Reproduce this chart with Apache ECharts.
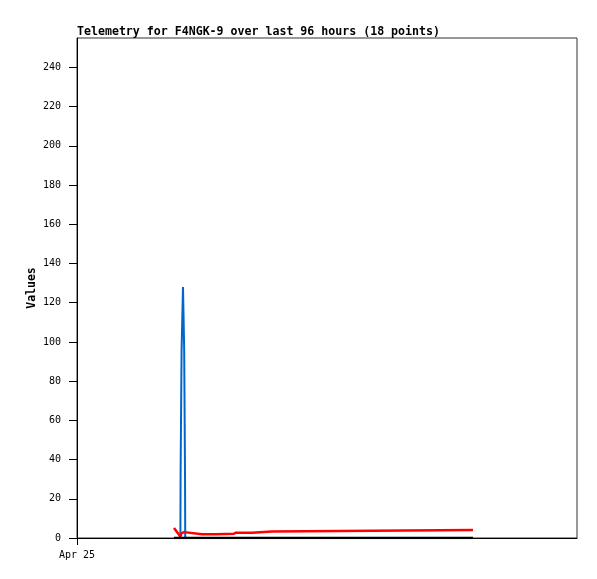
<!DOCTYPE html>
<html>
<head>
<meta charset="utf-8">
<script src="https://cdn.jsdelivr.net/npm/echarts@6/dist/echarts.min.js"></script>
<style>html,body{margin:0;padding:0;background:#fff;}#c{width:597px;height:579px;}</style>
</head>
<body>
<div id="c"></div>
<script>
// hours since Apr 25 00:00
var hours = [18.62, 19.85, 19.89, 20.08, 20.35, 20.58, 20.74, 20.78, 24.00, 26.69, 27.07, 30.14, 30.53, 33.60, 33.98, 37.44, 37.82, 76.03];
var blueValues = [0, 0, 32, 96, 128, 96, 32, 0, 0, 0, 0, 0, 0, 0, 0, 0, 0, 0];
var redValues = [5.1, 0.8, 1.5, 2.5, 3.1, 3, 2.8, 2.55, 1.9, 1.9, 2.2, 2.2, 2.7, 2.7, 3.3, 3.3, 4.1, 4.1];
var blackValues = [0, 0, 0, 0, 0, 0, 0, 0, 0, 0, 0, 0, 0, 0, 0, 0, 0, 0];
var yTicks = [0, 20, 40, 60, 80, 100, 120, 140, 160, 180, 200, 220, 240];
var xTicks = [0];
var xTickLabels = ['Apr 25'];
var titleText = 'Telemetry for F4NGK-9 over last 96 hours (18 points)';
var yName = 'Values';

function pairs(vals) { return hours.map(function (h, i) { return [h, vals[i]]; }); }

var chart = echarts.init(document.getElementById('c'), null, { renderer: 'canvas' });
var mono = '"DejaVu Sans Mono", "Liberation Mono", monospace';
chart.setOption({
  animation: false,
  backgroundColor: '#ffffff',
  title: {
    text: titleText, left: 72, top: 21,
    textStyle: { fontFamily: mono, fontSize: 11.6, fontWeight: 'bold', color: '#000' }
  },
  grid: { left: 77, top: 38, right: 20, bottom: 41, show: true, borderColor: '#333', borderWidth: 1, backgroundColor: 'transparent' },
  xAxis: {
    type: 'value', min: 0, max: 96,
    axisLine: { show: true, onZero: false, lineStyle: { color: '#000', width: 1 } },
    axisTick: { show: true, length: 7, inside: false, customValues: xTicks, lineStyle: { color: '#000' } },
    axisLabel: {
      show: true, customValues: xTicks, fontFamily: mono, fontSize: 10, color: '#000', margin: 12,
      formatter: function (v) { var i = xTicks.indexOf(v); return i >= 0 ? xTickLabels[i] : ''; }
    },
    splitLine: { show: false }
  },
  yAxis: {
    type: 'value', min: 0, max: 255,
    name: yName, nameLocation: 'middle', nameGap: 39, nameRotate: 90, nameMoveOverlap: false,
    nameTextStyle: { fontFamily: mono, fontSize: 11.5, fontWeight: 'bold', color: '#000' },
    axisLine: { show: true, lineStyle: { color: '#000', width: 1 } },
    axisTick: { show: true, length: 8, customValues: yTicks, lineStyle: { color: '#000' } },
    axisLabel: { show: true, customValues: yTicks, fontFamily: mono, fontSize: 10, color: '#000', margin: 16 },
    splitLine: { show: false }
  },
  series: [
    { type: 'line', data: pairs(blueValues), showSymbol: false, lineStyle: { color: '#0066cc', width: 2 }, z: 3 },
    { type: 'line', data: pairs(redValues), showSymbol: false, lineStyle: { color: '#ff0000', width: 2.5 }, z: 4 },
    { type: 'line', data: pairs(blackValues), showSymbol: false, lineStyle: { color: '#000000', width: 2.5 }, z: 5 }
  ]
});
</script>
</body>
</html>
